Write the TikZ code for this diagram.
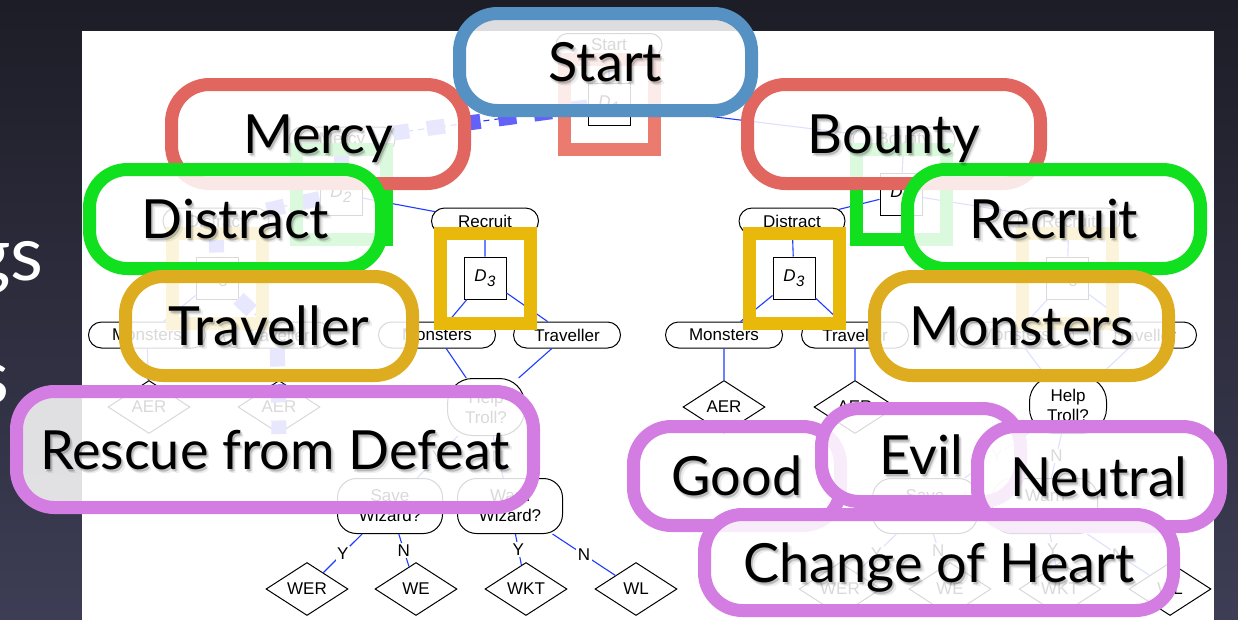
\documentclass[tikz,border=0pt]{standalone}
\usepackage{fontspec}
\setmainfont{Liberation Sans}
\newfontfamily\callfont{Lato}
\usetikzlibrary{shapes.geometric,shapes.misc}

\definecolor{bgtop}{HTML}{1D1D27}
\definecolor{bgbot}{HTML}{3D3D55}
\definecolor{edgeblue}{HTML}{1E3CFF}
\definecolor{glowblue}{HTML}{6262FA}
\definecolor{startblue}{HTML}{5592C3}
\definecolor{mercyred}{HTML}{E0665F}
\definecolor{salmon}{HTML}{EA7B6E}
\definecolor{brightgreen}{HTML}{10E01E}
\definecolor{callgold}{HTML}{DEAD1F}
\definecolor{ringgold}{HTML}{E8B90A}
\definecolor{orchid}{HTML}{D37DE2}

\newcommand\diagfont{\fontsize{17}{20}\selectfont}
\newcommand\dlab[1]{\textit{D}\kern0.5pt\raisebox{-5pt}{\fontsize{15}{15}\selectfont\textit{#1}}}

% a translucent rounded callout box
\newcommand\callbox[6]{%
  \node[callout=#2, minimum width=#5pt, minimum height=#6pt] (#1) at (#3,#4) {};}
% the caption of a callout, with its soft shadow
\newcommand\calltag[2]{%
  \node[calltext, text opacity=0.07] (#1-s3) at ([shift={(3.5,23.5)}]#1.center) {#2};
  \node[calltext, text opacity=0.09] (#1-s2) at ([shift={(1,22.5)}]#1.center) {#2};
  \node[calltext, text opacity=0.14] (#1-s1) at ([shift={(2,21.5)}]#1.center) {#2};
  \node[calltext] (#1-t) at ([shift={(0,19.5)}]#1.center) {#2};}

\tikzset{
  edge/.style={draw=edgeblue, line width=1.1pt},
  pathedge/.style={draw=edgeblue, line width=1.1pt, dash pattern=on 6pt off 5pt},
  glow/.style={draw=glowblue, line width=15pt, dash pattern=on 18pt off 18pt},
  term/.style={draw, line width=1pt, rounded rectangle, minimum height=26pt,
    inner sep=2pt, fill=white, font=\diagfont},
  dbox/.style={draw, line width=1pt, minimum size=42pt, inner sep=0pt, fill=white, font=\diagfont},
  leaf/.style={draw, line width=1pt, diamond, minimum width=82pt, minimum height=53pt,
    inner sep=0pt, fill=white, font=\diagfont},
  ask/.style={draw, line width=1pt, rectangle, rounded corners=19pt, align=center,
    minimum width=105pt, minimum height=55pt, inner sep=0pt, fill=white, font=\diagfont},
  troll/.style={ask, rounded corners=25pt, minimum width=77pt, minimum height=57pt},
  yn/.style={fill=white, inner sep=1.5pt, font=\diagfont},
  ring/.style={draw=#1, line width=13pt, minimum size=90pt, inner sep=0pt},
  callout/.style={draw=#1, line width=13pt, fill=white, fill opacity=0.85, rounded corners=38pt, inner sep=0pt},
  calltext/.style={font=\callfont\fontsize{54}{54}\selectfont, anchor=base, text=black, inner sep=0pt},
  slidetext/.style={font=\callfont\fontsize{76}{76}\selectfont, text=white, anchor=base east, inner sep=0pt},
}

\begin{document}
\begin{tikzpicture}[x=1pt, y=-1pt]
\useasboundingbox (0,0) rectangle (1238,619);
\clip (0,0) rectangle (1238,619);

% slide background and title fragments
\shade[top color=bgtop, bottom color=bgbot] (0,0) rectangle (1238,619);
\node[slidetext] (title1) at (44,280) {gs};
\node[slidetext] (title2) at (10,403) {s};

% white panel holding the decision tree
\fill[white] (82,31) rectangle (1214,630);

% ---- decision tree ----
\node[term, minimum width=110pt, minimum height=23pt] (start) at (609,45) {Start};
\node[dbox] (d1) at (609,104) {\dlab{1}};
\node[term, minimum width=110pt] (mercy) at (342,140) {Mercy};
\node[term, minimum width=106pt] (bounty) at (904,140) {Bounty};
\node[dbox] (d2l) at (341,194) {\dlab{2}};
\node[dbox] (d2r) at (901,194) {\dlab{2}};
\node[term, minimum width=110pt] (distl) at (216,221) {Distract};
\node[term, minimum width=111pt] (recl) at (485,221) {Recruit};
\node[term, minimum width=110pt] (distr) at (792,221) {Distract};
\node[term, minimum width=106pt] (recr) at (1069,221) {Recruit};
\node[dbox] (d3a) at (217,278) {\dlab{3}};
\node[dbox] (d3b) at (485,278) {\dlab{3}};
\node[dbox] (d3c) at (794,278) {\dlab{3}};
\node[dbox] (d3d) at (1067,278) {\dlab{3}};
\node[term, minimum width=121pt] (mona) at (147,335) {Monsters};
\node[term, minimum width=111pt] (trava) at (277,335) {Traveller};
\node[term, minimum width=121pt] (monb) at (437,335) {Monsters};
\node[term, minimum width=111pt] (travb) at (567,335) {Traveller};
\node[term, minimum width=121pt] (monc) at (724,335) {Monsters};
\node[term, minimum width=111pt] (travc) at (855,335) {Traveller};
\node[term, minimum width=121pt] (mond) at (1015,335) {Monsters};
\node[term, minimum width=111pt] (travd) at (1143,335) {Traveller};
\node[leaf] (aera) at (149,407) {AER};
\node[leaf] (aerb) at (279,407) {AER};
\node[leaf] (aerc) at (724,407) {AER};
\node[leaf] (aerd) at (855,407) {AER};
\node[troll] (helpl) at (486,407) {Help\\Troll?};
\node[troll] (helpr) at (1068,405) {Help\\Troll?};
\node[ask] (savel) at (390,506) {Save\\Wizard?};
\node[ask] (warnl) at (510,506) {Warn\\Wizard?};
\node[ask] (saver) at (925,506) {Save\\Wizard?};
\node[ask] (warnr) at (1045,506) {Warn\\Wizard?};
\node[leaf] (werl) at (307,589) {WER};
\node[leaf] (wel) at (416,589) {WE};
\node[leaf] (wktl) at (526,589) {WKT};
\node[leaf] (wll) at (636,589) {WL};
\node[leaf] (werr) at (840,589) {WER};
\node[leaf] (wer) at (950,589) {WE};
\node[leaf] (wktr) at (1060,589) {WKT};
\node[leaf] (wlr) at (1170,589) {WL};

% connectors
\draw[edge] (start) -- (d1);
\draw[edge] (d1) -- (bounty);
\draw[edge] (bounty) -- (d2r);
\draw[edge] (d2l) -- (recl);
\draw[edge] (d2r) -- (distr);
\draw[edge] (d2r) -- (recr);
\draw[edge] (recl) -- (d3b);
\draw[edge] (distr) -- (d3c);
\draw[edge] (recr) -- (d3d);
\draw[edge] (d3a) -- (mona);
\draw[edge] (d3b) -- (monb);
\draw[edge] (d3b) -- (travb);
\draw[edge] (d3c) -- (monc);
\draw[edge] (d3c) -- (travc);
\draw[edge] (d3d) -- (mond);
\draw[edge] (d3d) -- (travd);
\draw[edge] (mona) -- (aera);
\draw[edge] (monc) -- (aerc);
\draw[edge] (travc) -- (aerd);
\draw[edge] (monb) -- (helpl);
\draw[edge] (travb) -- (helpl);
\draw[edge] (mond) -- (helpr);
\draw[edge] (travd) -- (helpr);
\draw[edge] (helpl) -- node[yn] (ynl1) {Y} (savel);
\draw[edge] (helpl) -- node[yn] (ynl2) {N} (warnl);
\draw[edge] (helpr) -- node[yn] (ynr1) {Y} (saver);
\draw[edge] (helpr) -- node[yn] (ynr2) {N} (warnr);
\draw[edge] (savel) -- node[yn] (ynl3) {Y} (werl);
\draw[edge] (savel) -- node[yn] (ynl4) {N} (wel);
\draw[edge] (warnl) -- node[yn] (ynl5) {Y} (wktl);
\draw[edge] (warnl) -- node[yn] (ynl6) {N} (wll);
\draw[edge] (saver) -- node[yn] (ynr3) {Y} (werr);
\draw[edge] (saver) -- node[yn] (ynr4) {N} (wer);
\draw[edge] (warnr) -- node[yn] (ynr5) {Y} (wktr);
\draw[edge] (warnr) -- node[yn] (ynr6) {N} (wlr);

% the traced route through the tree
\draw[pathedge] (d1) -- (mercy);
\draw[pathedge] (mercy) -- (d2l);
\draw[pathedge] (d2l) -- (distl);
\draw[pathedge] (distl) -- (d3a);
\draw[pathedge] (d3a) -- (trava);
\draw[pathedge] (trava) -- (aerb);
\draw[glow] (d1) -- (mercy);
\draw[glow] (mercy) -- (d2l);
\draw[glow] (d2l) -- (distl);
\draw[glow] (distl) -- (d3a);
\draw[glow] (d3a) -- (trava);
\draw[glow] (trava) -- (aerb.south);

% highlight frames round the decision boxes
\node[ring=salmon] (ring1) at (d1) {};
\node[ring=brightgreen] (ring2l) at (d2l) {};
\node[ring=brightgreen] (ring2r) at (d2r) {};
\node[ring=ringgold] (ring3a) at (d3a) {};
\node[ring=ringgold] (ring3b) at (d3b) {};
\node[ring=ringgold] (ring3c) at (d3c) {};
\node[ring=ringgold] (ring3d) at (d3d) {};

% callouts
\callbox{cMercy}{mercyred}{318}{134}{293}{99}
\callbox{cBounty}{mercyred}{894}{134}{293}{99}
\callbox{cStart}{startblue}{605.5}{62}{292}{97}
\callbox{cDistract}{brightgreen}{235.5}{219}{292}{99}
\callbox{cRecruit}{brightgreen}{1054}{219}{293}{99}
\callbox{cTraveller}{callgold}{269}{326}{287}{99}
\callbox{cMonsters}{callgold}{1021.5}{326}{294}{99}
\callbox{cRescue}{orchid}{275}{449.5}{517}{116}
\callbox{cGood}{orchid}{737}{476}{207}{99}
\callbox{cEvil}{orchid}{921}{455}{199}{93}
\callbox{cNeutral}{orchid}{1099}{476.5}{243}{100}
\callbox{cChange}{orchid}{939}{562.5}{469}{96}

\calltag{cMercy}{Mercy}
\calltag{cBounty}{Bounty}
\calltag{cStart}{Start}
\calltag{cDistract}{Distract}
\calltag{cRecruit}{Recruit}
\calltag{cTraveller}{Traveller}
\calltag{cMonsters}{Monsters}
\calltag{cRescue}{Rescue from Defeat}
\calltag{cGood}{Good}
\calltag{cEvil}{Evil}
\calltag{cNeutral}{Neutral}
\calltag{cChange}{Change of Heart}
\end{tikzpicture}
\end{document}
